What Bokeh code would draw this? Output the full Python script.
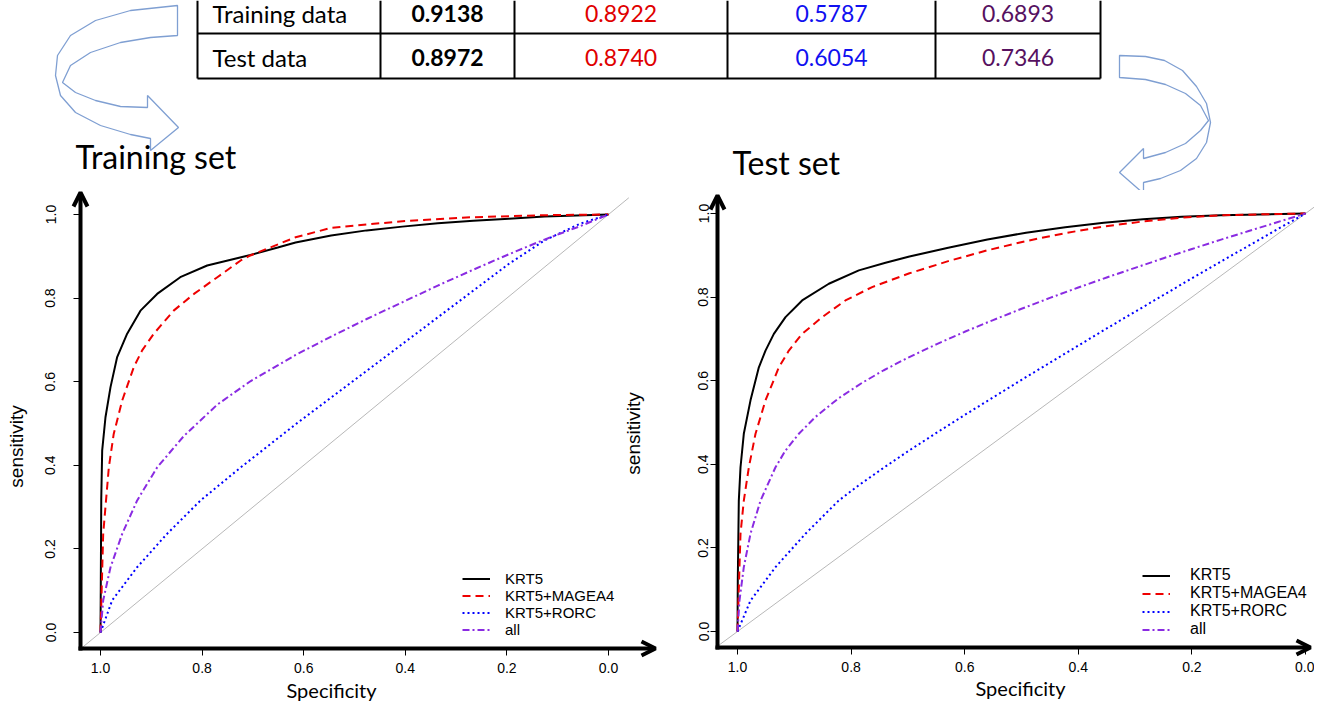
import math
from bokeh.plotting import figure
from bokeh.models import Range1d, FixedTicker, PrintfTickFormatter, Arrow, OpenHead
from bokeh.layouts import column, row
from bokeh.embed import file_html
from bokeh.resources import INLINE
from bokeh.core.properties import value

# ---------------- data ----------------
table_rows = ["Training data", "Test data"]
auc_krt5 = ["0.9138", "0.8972"]
auc_magea4 = ["0.8922", "0.8740"]
auc_rorc = ["0.5787", "0.6054"]
auc_all = ["0.6893", "0.7346"]

series_names = ["KRT5", "KRT5+MAGEA4", "KRT5+RORC", "all"]
tick_values = [0.0, 0.2, 0.4, 0.6, 0.8, 1.0]

# chance diagonal over R's padded plot region
chance_spec = [1.04, -0.04]
chance_sens = [-0.04, 1.04]

# Training set curves (specificity, sensitivity)
train_krt5_spec = [1.0, 0.9995, 0.9985, 0.9967, 0.9902, 0.9803, 0.9672, 0.9475, 0.9213, 0.8885, 0.843, 0.79, 0.705, 0.651, 0.616, 0.546, 0.476, 0.406, 0.336, 0.266, 0.196, 0.126, 0.0]
train_krt5_sens = [0.0, 0.10, 0.32, 0.435, 0.515, 0.587, 0.659, 0.715, 0.770, 0.810, 0.850, 0.878, 0.903, 0.921, 0.933, 0.950, 0.962, 0.971, 0.979, 0.985, 0.990, 0.995, 1.0]
train_magea4_spec = [1.0, 0.9947, 0.9836, 0.974, 0.9573, 0.9344, 0.918, 0.895, 0.856, 0.816, 0.770, 0.724, 0.705, 0.616, 0.546, 0.406, 0.266, 0.126, 0.0]
train_magea4_sens = [0.0, 0.236, 0.395, 0.475, 0.555, 0.635, 0.675, 0.715, 0.770, 0.810, 0.850, 0.890, 0.902, 0.9456, 0.968, 0.984, 0.9936, 0.9984, 1.0]
train_rorc_spec = [1.0, 0.977, 0.928, 0.869, 0.803, 0.724, 0.616, 0.546, 0.476, 0.406, 0.336, 0.266, 0.196, 0.126, 0.056, 0.0]
train_rorc_sens = [0.0, 0.077, 0.156, 0.236, 0.316, 0.395, 0.498, 0.562, 0.626, 0.690, 0.754, 0.818, 0.882, 0.938, 0.978, 1.0]
train_all_spec = [1.0, 0.9947, 0.9803, 0.9573, 0.9278, 0.8885, 0.836, 0.7703, 0.705, 0.616, 0.546, 0.476, 0.406, 0.336, 0.266, 0.196, 0.126, 0.056, 0.0]
train_all_sens = [0.0, 0.077, 0.156, 0.236, 0.316, 0.395, 0.470, 0.545, 0.601, 0.664, 0.708, 0.750, 0.790, 0.830, 0.868, 0.905, 0.940, 0.972, 1.0]

# Test set curves
test_krt5_spec = [1.0, 0.9995, 0.9977, 0.9947, 0.9889, 0.9771, 0.9624, 0.9507, 0.936, 0.9155, 0.8862, 0.8392, 0.7864, 0.7394, 0.6973, 0.629, 0.56, 0.492, 0.423, 0.355, 0.286, 0.218, 0.149, 0.0]
test_krt5_sens = [0.0, 0.12, 0.313, 0.393, 0.473, 0.553, 0.632, 0.672, 0.712, 0.752, 0.792, 0.832, 0.864, 0.882, 0.897, 0.918, 0.938, 0.954, 0.967, 0.978, 0.986, 0.992, 0.996, 1.0]
test_magea4_spec = [1.0, 0.9947, 0.9889, 0.98, 0.9683, 0.9507, 0.939, 0.9272, 0.9096, 0.8862, 0.851, 0.81, 0.763, 0.6973, 0.629, 0.56, 0.492, 0.423, 0.355, 0.286, 0.218, 0.149, 0.0]
test_magea4_sens = [0.0, 0.234, 0.313, 0.393, 0.473, 0.553, 0.592, 0.632, 0.672, 0.712, 0.752, 0.792, 0.824, 0.857, 0.886, 0.912, 0.934, 0.953, 0.969, 0.981, 0.990, 0.996, 1.0]
test_rorc_spec = [1.0, 0.9771, 0.9331, 0.8803, 0.822, 0.7864, 0.7424, 0.70, 0.65, 0.60, 0.55, 0.50, 0.45, 0.40, 0.35, 0.30, 0.25, 0.20, 0.15, 0.10, 0.05, 0.0]
test_rorc_sens = [0.0, 0.074, 0.154, 0.234, 0.313, 0.350, 0.392, 0.431, 0.475, 0.518, 0.560, 0.602, 0.643, 0.684, 0.725, 0.765, 0.805, 0.845, 0.884, 0.923, 0.962, 1.0]
test_all_spec = [1.0, 0.9965, 0.9889, 0.9771, 0.9595, 0.9331, 0.9155, 0.892, 0.863, 0.822, 0.7805, 0.7424, 0.70, 0.65, 0.60, 0.55, 0.50, 0.45, 0.40, 0.35, 0.30, 0.25, 0.20, 0.15, 0.10, 0.05, 0.0]
test_all_sens = [0.0, 0.074, 0.154, 0.234, 0.313, 0.393, 0.433, 0.473, 0.513, 0.558, 0.595, 0.625, 0.655, 0.687, 0.717, 0.745, 0.772, 0.798, 0.823, 0.847, 0.870, 0.893, 0.915, 0.937, 0.958, 0.979, 1.0]

# ---------------- styles ----------------
colors = ["black", "#ee0000", "#0000ff", "#8a2be2"]
dashes = ["solid", "8 5", "2 3", "7 3 2 3"]
TICK_FONT = "Liberation Sans"
CAL_FONT = "Lato"

# ---------------- top panel: table, titles, arrows ----------------
top = figure(width=1314, height=190, x_range=Range1d(0, 1314), y_range=Range1d(190, 0),
             output_backend="svg", toolbar_location=None, min_border=0,
             x_axis_type=None, y_axis_type=None)
top.grid.visible = False
top.outline_line_color = None

col_edges = [197, 380, 514, 727, 935, 1100]
row_lines = [33, 78]
row_centers = [13, 57]
top.segment(x0=col_edges, y0=[0] * len(col_edges), x1=col_edges, y1=[78] * len(col_edges),
            line_color="black", line_width=2)
top.segment(x0=[197, 197], y0=row_lines, x1=[1100, 1100], y1=row_lines,
            line_color="black", line_width=2)

top.text(x=[212, 212], y=row_centers, text=table_rows, text_font=value(CAL_FONT),
         text_font_size=value("24px"), text_baseline="middle", text_align="left", text_color="black")
col_centers = [(col_edges[i] + col_edges[i + 1]) / 2 for i in range(1, 5)]
for ci, (vals, c) in enumerate(zip([auc_krt5, auc_magea4, auc_rorc, auc_all],
                                   ["black", "#e00000", "#1010f0", "#56115f"])):
    top.text(x=[col_centers[ci]] * 2, y=row_centers, text=vals, text_font=value(CAL_FONT),
             text_font_size=value("23px"), text_baseline="middle", text_align="center",
             text_color=c, text_font_style="bold" if ci == 0 else "normal")

top.text(x=[75], y=[156], text=["Training set"], text_font=value(CAL_FONT),
         text_font_size=value("32px"), text_baseline="middle", text_align="left", text_color="black")
top.text(x=[732], y=[162], text=["Test set"], text_font=value(CAL_FONT),
         text_font_size=value("32px"), text_baseline="middle", text_align="left", text_color="black")

arrow_color = "#7f9fd2"
left_arrow_x = [177, 130, 95, 70, 57, 55, 60, 75, 100, 130, 150, 150, 178, 147, 147, 120, 95, 75, 62, 70, 90, 120, 150, 177]
left_arrow_y = [5, 10, 20, 35, 55, 75, 95, 112, 125, 134, 138, 150, 127, 95, 107, 106, 100, 92, 82, 65, 52, 42, 37, 35]
top.patch(left_arrow_x, left_arrow_y, fill_alpha=0, line_color=arrow_color, line_width=1.3)
right_arrow_x = [1119, 1145, 1164, 1182, 1196, 1206, 1210, 1206, 1196, 1180, 1160, 1143, 1143, 1119, 1143, 1143, 1165, 1185, 1200, 1208, 1200, 1185, 1165, 1145, 1119]
right_arrow_y = [55, 56, 60, 70, 86, 103, 122, 142, 158, 170, 178, 182, 193, 172, 148, 158, 152, 143, 130, 120, 105, 93, 84, 79, 77]
top.patch(right_arrow_x, right_arrow_y, fill_alpha=0, line_color=arrow_color, line_width=1.3)


# ---------------- ROC panels ----------------
def roc_panel(width, height, xr, yr, x_axis_at, y_axis_at, curves, legend_x, legend_y,
              legend_standoff, legend_size, ytick_standoff, xlabel, ylabel):
    p = figure(width=width, height=height, x_range=xr, y_range=yr,
               output_backend="svg", toolbar_location=None, min_border=0)
    p.grid.visible = False
    p.outline_line_color = None
    p.line(chance_spec, chance_sens, line_color="#b8b8b8", line_width=1)
    for (sx, sy), name, c, d in zip(curves, series_names, colors, dashes):
        p.line(sx, sy, line_color=c, line_width=2, line_dash=d, legend_label=name)
    for ax in (p.xaxis[0], p.yaxis[0]):
        ax.ticker = FixedTicker(ticks=tick_values)
        ax.formatter = PrintfTickFormatter(format="%.1f")
        ax.axis_line_color = None
        ax.major_tick_in = 0
        ax.major_tick_out = 7
        ax.major_tick_line_color = "black"
        ax.minor_tick_line_color = None
        ax.major_label_text_font = TICK_FONT
        ax.major_label_text_font_size = "14px"
        ax.major_label_text_color = "black"
    p.xaxis.fixed_location = x_axis_at
    p.yaxis.fixed_location = y_axis_at
    p.xaxis.major_label_standoff = 7
    if xlabel:
        p.xaxis.axis_label = xlabel
        p.xaxis.axis_label_text_font = CAL_FONT
        p.xaxis.axis_label_text_font_size = "20px"
        p.xaxis.axis_label_text_font_style = "normal"
        p.xaxis.axis_label_text_color = "black"
        p.xaxis.axis_label_standoff = 2
    p.yaxis.major_label_orientation = "vertical"
    p.yaxis.major_label_standoff = ytick_standoff
    if ylabel:
        p.yaxis.axis_label = ylabel
        p.yaxis.axis_label_text_font = TICK_FONT
        p.yaxis.axis_label_text_font_size = "19px"
        p.yaxis.axis_label_text_font_style = "normal"
        p.yaxis.axis_label_text_color = "black"
        p.yaxis.axis_label_standoff = 16
    lg = p.legend[0]
    lg.location = (legend_x, legend_y)
    lg.border_line_color = None
    lg.background_fill_alpha = 0
    lg.padding = 0
    lg.margin = 0
    lg.spacing = 0
    lg.glyph_width = 28
    lg.glyph_height = 17
    lg.label_height = 17
    lg.label_standoff = legend_standoff
    lg.label_text_font = TICK_FONT
    lg.label_text_font_size = legend_size
    lg.label_text_color = "black"
    return p


# left panel calibration (px): spec 1 at x=100, spec 0 at x=608; sens 0 at y=632, 1 at y=214
def l_spec(x):
    return 1 - (x - 100) / 508


def l_sens(y):
    return (632 - y) / 418


# right panel calibration: spec 1 at x=737, 0 at x=1305; sens 0 at y=631, 1 at y=213
def r_spec(x):
    return 1 - (x - 737) / 568


def r_sens(y):
    return (631 - y) / 418


# left canvas spans x 0..662, y 190..702 ; right canvas x 662..1314
left = roc_panel(662, 512, Range1d(l_spec(0), l_spec(662)), Range1d(l_sens(702), l_sens(190)),
                 l_sens(648), l_spec(80),
                 [(train_krt5_spec, train_krt5_sens), (train_magea4_spec, train_magea4_sens),
                  (train_rorc_spec, train_rorc_sens), (train_all_spec, train_all_sens)],
                 462, 64, 15, "15px", 18, "Specificity", "sensitivity")
right = roc_panel(652, 512, Range1d(r_spec(662), r_spec(1314)), Range1d(r_sens(702), r_sens(190)),
                  r_sens(647), r_spec(717),
                  [(test_krt5_spec, test_krt5_sens), (test_magea4_spec, test_magea4_sens),
                   (test_rorc_spec, test_rorc_sens), (test_all_spec, test_all_sens)],
                  1142 - 662, 64, 20, "16px", 2, None, None)

# axis titles of the test panel (its y title sits left of its own canvas)
right.text(x=[r_spec(1020)], y=[r_sens(687)], text=["Specificity"], text_align="center",
           text_baseline="middle", text_font=value(CAL_FONT), text_font_size=value("20px"),
           text_color="black")
left.text(x=[l_spec(633)], y=[l_sens(433)], text=["sensitivity"], angle=math.pi / 2,
          text_align="center", text_baseline="middle", text_font=value(TICK_FONT),
          text_font_size=value("19px"), text_color="black")

# thick axis arrows
for p, fs, fy, x0, x1, yb, yt, xa, ya in [
        (left, l_spec, l_sens, 78, 655, 650, 192, 80, 648),
        (right, r_spec, r_sens, 715, 1310, 649, 195, 717, 647)]:
    p.add_layout(Arrow(end=OpenHead(size=14, line_width=4, line_color="black"),
                       x_start=fs(x0), y_start=fy(ya), x_end=fs(x1), y_end=fy(ya),
                       line_width=4, line_color="black"))
    p.add_layout(Arrow(end=OpenHead(size=14, line_width=4, line_color="black"),
                       x_start=fs(xa), y_start=fy(yb), x_end=fs(xa), y_end=fy(yt),
                       line_width=4, line_color="black"))

layout = column(top, row(left, right))
open("out.html", "w").write(file_html(layout, INLINE))
